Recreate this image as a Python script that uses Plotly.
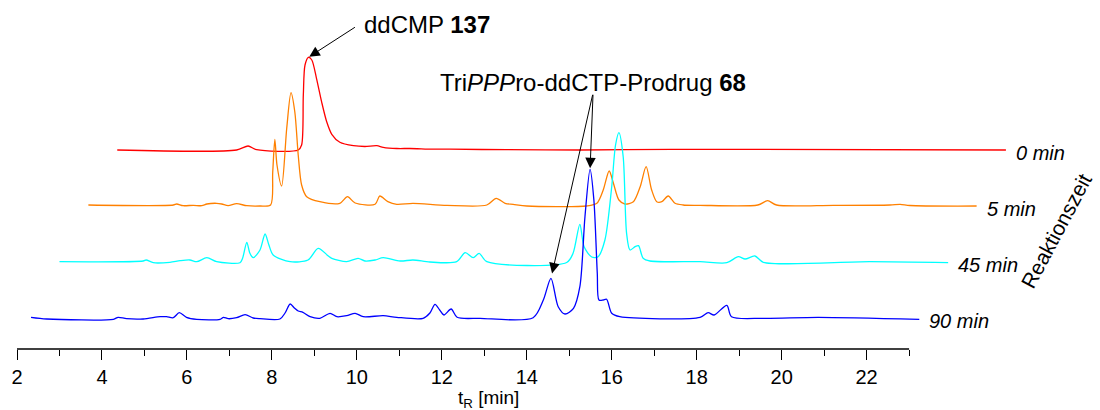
import plotly.graph_objects as go

# HPLC traces: retention time (min) and baseline-corrected UV signal (mAU)
t_0min = [2.32, 5.13, 5.40, 5.60, 6.58, 6.66, 6.70, 6.74, 6.82, 6.90, 7.01, 7.13,
          7.25, 7.37, 7.56, 7.88, 8.15, 8.43, 8.58, 8.90, 9.21, 9.75, 10.15, 11.49,
          13.21, 15.37, 16.86, 23.24]
s_0min = [0, 0, 4, 0.3, 0, 5, 55, 85, 92.7, 90, 71.7, 48.3,
          28.3, 15.7, 7.7, 4.3, 3.5, 4.3, 2.7, 1.5, 1.5, 0.8, 0.8, 0.3,
          0, 0.7, 0.7, 0]

t_5min = [2.32, 4.32, 4.40, 4.55, 4.79, 4.99, 5.11, 5.34, 5.46, 5.61,
          5.81, 6.05, 6.36, 6.61, 6.66, 6.71, 6.76, 6.87, 6.99, 7.09,
          7.18, 7.26, 7.34, 7.46, 7.77, 8.24, 8.42, 8.60, 9.07, 9.18,
          9.37, 9.58, 9.96, 10.76, 11.70, 11.92, 12.13, 12.32, 12.64, 14.05,
          14.29, 14.44, 14.58, 14.68, 14.81, 14.95, 15.15, 15.31, 15.45, 15.58,
          15.70, 15.82, 15.97, 16.13, 16.32, 16.72, 18.08, 18.31, 18.52, 19.86,
          21.19, 21.43, 21.66, 23.23]
s_5min = [1, 1, 2, 0.3, 0.7, 0.3, 2, 2.7, 2, 0.3,
          2.3, 0.3, 0, 1, 34, 66.7, 41, 20, 78, 113.3,
          94, 51, 21, 9.3, 4.3, 2.7, 9.3, 3, 1.7, 10,
          4.3, 1.7, 2.7, 0.7, 1, 7.7, 2.7, 1.7, 0, 0,
          2.7, 16, 35, 22.7, 6, 2, 4.3, 19.3, 39.3, 16,
          4.3, 4.3, 10, 2.7, 1, 0.7, 1, 5.3, 1, 0.7,
          1, 1.7, 0.5, 0]

t_45min = [2.32, 4.29, 4.36, 4.53, 4.92, 5.16, 5.39, 5.55, 5.79, 6.02,
           6.57, 6.63, 6.73, 6.80, 6.88, 7.04, 7.16, 7.25, 7.35, 7.75,
           8.17, 8.41, 8.64, 8.73, 9.08, 9.35, 9.51, 9.75, 9.94, 10.34,
           10.64, 11.04, 11.67, 11.87, 12.06, 12.20, 12.38, 14.26, 14.41, 14.57,
           14.67, 14.85, 15.00, 15.16, 15.32, 15.41, 15.49, 15.59, 15.67, 15.75,
           15.87, 15.95, 16.06, 16.22, 17.40, 18.03, 18.30, 18.46, 18.69, 18.89,
           21.40, 23.24]
s_45min = [0.3, 1, 2, -0.7, -0.3, 1.3, 2, 0.3, 4.3, 0.3,
           -0.7, 3.7, 19.7, 9, 4.3, 12, 28, 17, 7, 0.3,
           2, 13.7, 6.3, 3.7, 0.3, 3.7, 1, 2, 4.3, 1,
           2, 0, 0.3, 9.3, 4.3, 8.7, 0.3, -0.5, 8.7, 37.7,
           15.3, 5, 5.3, 22, 75.3, 117, 129.3, 105.3, 28.7, 12,
           15.3, 16.3, 3.7, 1, 0.3, -0.7, 5.3, 3, 6, -0.3,
           0.3, -0.7]

t_90min = [2.33, 2.70, 4.27, 4.38, 4.58, 4.97, 5.37, 5.52, 5.68, 5.82,
           5.99, 6.23, 6.78, 6.86, 6.97, 7.17, 7.37, 7.56, 7.72, 8.19,
           8.31, 8.43, 8.53, 8.62, 8.73, 8.90, 9.13, 9.37, 9.53, 9.76,
           9.96, 10.15, 10.62, 10.94, 11.56, 11.72, 11.84, 11.95, 12.05, 12.22,
           12.36, 12.90, 14.15, 14.39, 14.57, 14.74, 14.90, 15.10, 15.25, 15.37,
           15.49, 15.58, 15.66, 15.70, 15.80, 15.88, 16.00, 16.19, 18.08, 18.27,
           18.41, 18.71, 18.82, 19.57, 20.86, 23.24]
s_90min = [0.7, -1, -1.3, 0.7, -0.7, -1, 1.3, 1.3, 0.3, 5.3,
           0.7, -1.3, -1.3, 0.7, -0.7, 0.3, 3.3, 0, -0.7, -1,
           5, 14, 10, 7, 5.7, 1.3, -0.3, 4.7, 1.3, 2.3,
           4.7, 1.3, 2.3, 0.7, -0.3, 5, 13.7, 8, 3, 9,
           0.7, -0.3, 0.3, 18, 39.7, 11.3, 4, 9.7, 31.3, 101.3,
           148.7, 118, 44.7, 18, 18, 18.7, 4.7, 1.3, 0.7, 5.3,
           3, 12.7, 1.3, -0.3, 0.7, -1.3]

time_labels = ["0 min", "5 min", "45 min", "90 min"]
x_tick_values = [2, 4, 6, 8, 10, 12, 14, 16, 18, 20, 22]
x_minor_values = [3, 5, 7, 9, 11, 13, 15, 17, 19, 21, 23]

# waterfall: back trace first, each step shifted right and up
series = [
    (t_0min, s_0min, "#ff0000", 3),
    (t_5min, s_5min, "#ff8000", 2),
    (t_45min, s_45min, "#00ffff", 1),
    (t_90min, s_90min, "#0000ff", 0),
]
DX = 0.68   # min per waterfall step
DY = 56     # mAU per waterfall step

W, H = 1100, 410
ML, MB = 17, 61
PX_PER_MIN = 42.48
X_MIN = 2
X_MAX = X_MIN + (W - ML) / PX_PER_MIN
Y_MIN, Y_MAX = -31, 318
PLOT_H = H - MB

FONT = "Liberation Sans, Arial, sans-serif"

fig = go.Figure()
for (t, s, color, k), name in zip(series, time_labels):
    fig.add_trace(go.Scatter(
        x=[v + k * DX for v in t],
        y=[v + k * DY for v in s],
        mode="lines",
        line=dict(color=color, width=1.3, shape="spline", smoothing=0.8),
        name=name,
        hoverinfo="skip",
    ))

annotations = []
# sample-time labels at the right end of each trace
for (t, s, color, k), name in zip(series, time_labels):
    annotations.append(dict(
        x=t[-1] + k * DX, y=k * DY, xref="x", yref="y",
        text="<i>%s</i>" % name, showarrow=False,
        xanchor="left", yanchor="middle", xshift=8, yshift=-3,
        font=dict(family=FONT, size=20, color="black"),
    ))

arrow_style = dict(showarrow=True, arrowhead=2, arrowsize=2.1, arrowwidth=1,
                   arrowcolor="black", text="", axref="pixel", ayref="pixel")

# ddCMP peak (0 min trace)
i_cmp = s_0min.index(max(s_0min))
annotations.append(dict(
    x=t_0min[i_cmp] + 3 * DX, y=s_0min[i_cmp] + 3 * DY, xref="x", yref="y",
    ax=48, ay=-31, standoff=1, **arrow_style,
))
annotations.append(dict(
    x=10.12, y=294, xref="x", yref="y", text="ddCMP <b>137</b>",
    showarrow=False, xanchor="left", yanchor="middle",
    font=dict(family=FONT, size=24, color="black"),
))

# prodrug peaks (90 min trace)
i_main = s_90min.index(max(s_90min))
i_pre = t_90min.index(14.57)
annotations.append(dict(
    x=t_90min[i_main], y=s_90min[i_main], xref="x", yref="y",
    ax=3, ay=-76, standoff=1, **arrow_style,
))
annotations.append(dict(
    x=t_90min[i_pre], y=s_90min[i_pre], xref="x", yref="y",
    ax=42, ay=-185, standoff=5, **arrow_style,
))
annotations.append(dict(
    x=11.9, y=236, xref="x", yref="y",
    text="Tri<i>PPP</i>ro-ddCTP-Prodrug <b>68</b>",
    showarrow=False, xanchor="left", yanchor="middle",
    font=dict(family=FONT, size=24, color="black"),
))

# depth-axis title and time-axis title
annotations.append(dict(
    x=26.45, y=87, xref="x", yref="y", text="Reaktionszeit",
    showarrow=False, textangle=-62, xanchor="center", yanchor="middle",
    font=dict(family=FONT, size=21, color="black"),
))
annotations.append(dict(
    x=13.1, y=(PLOT_H - 399) / PLOT_H, xref="x", yref="paper",
    text="t<sub>R</sub> [min]",
    showarrow=False, xanchor="center", yanchor="middle",
    font=dict(family=FONT, size=19, color="black"),
))

fig.update_layout(
    width=W, height=H,
    margin=dict(l=ML, r=0, t=0, b=MB),
    paper_bgcolor="white", plot_bgcolor="white",
    showlegend=False,
    annotations=annotations,
    shapes=[dict(type="line", xref="x", yref="paper", x0=2, x1=23, y0=0, y1=0,
                 line=dict(color="black", width=1.4))],
    xaxis=dict(
        range=[X_MIN, X_MAX], showgrid=False, zeroline=False, showline=False,
        tickmode="array", tickvals=x_tick_values,
        ticktext=[str(v) for v in x_tick_values],
        ticks="outside", ticklen=10, tickwidth=1.4, tickcolor="black",
        tickfont=dict(family=FONT, size=20, color="black"),
        minor=dict(tickmode="array", tickvals=x_minor_values, ticks="outside",
                   ticklen=6, tickwidth=1.4, tickcolor="black", showgrid=False),
    ),
    yaxis=dict(range=[Y_MIN, Y_MAX], visible=False),
)

fig.write_html("out.html")
